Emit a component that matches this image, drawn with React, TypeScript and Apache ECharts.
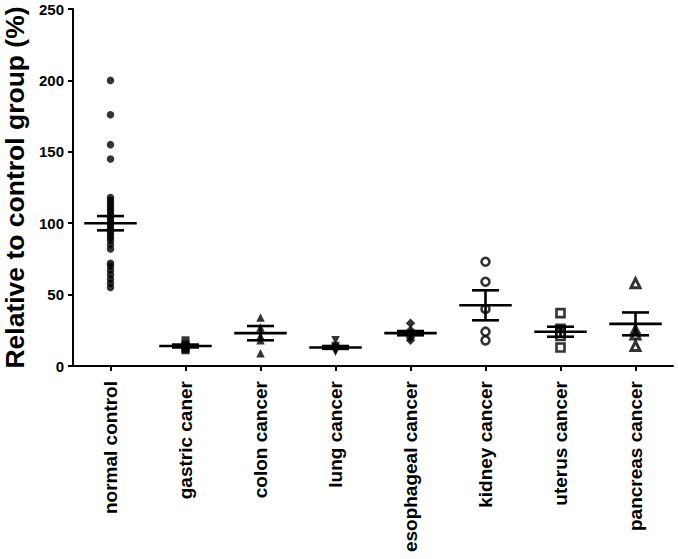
import React, { useEffect, useRef } from "react";
import * as echarts from "echarts";

const categories = [
  "normal control",
  "gastric caner",
  "colon cancer",
  "lung cancer",
  "esophageal cancer",
  "kidney cancer",
  "uterus cancer",
  "pancreas cancer",
];

const normalControl = [200, 176, 155, 145, 118, 116, 114, 112, 110, 108, 106, 104, 102, 100, 98, 96, 94, 92, 90, 88, 85, 82, 72, 70, 67, 64, 61, 58, 55];
const gastric = [18, 15, 14, 13, 12, 11];
const colon = [34, 27, 21, 18, 9];
const lung = [18, 14, 13, 12, 11, 10];
const esophageal = [30, 25, 23, 22, 20, 18];
const kidney = [73, 59, 40, 24, 18];
const uterus = [37, 26, 25, 23, 21, 13];
const pancreas = [58, 25, 22, 14];

const groups = [normalControl, gastric, colon, lung, esophageal, kidney, uterus, pancreas];

// mean and SEM
const means = [100, 14, 23, 13, 23, 42.5, 24, 29.5];
const sems = [5, 1, 5, 1, 1.5, 10.5, 3.5, 8];

const yTicks = [0, 50, 100, 150, 200, 250];

const FONT = "'Liberation Sans', Arial, sans-serif";

const downTriangle = "path://M0,0 L10,0 L5,10 Z";

const markerStyles: any[] = [
  { symbol: "circle", size: 7.5, open: false, bw: 0 },
  { symbol: "rect", size: 8, open: false, bw: 0 },
  { symbol: "triangle", size: 8.5, open: false, bw: 0 },
  { symbol: downTriangle, size: 8.5, open: false, bw: 0 },
  { symbol: "diamond", size: 9.5, open: false, bw: 0 },
  { symbol: "circle", size: 8, open: true, bw: 2.6 },
  { symbol: "rect", size: 8, open: true, bw: 2.6 },
  { symbol: "triangle", size: 9, open: true, bw: 3 },
];

export default function App() {
  const ref = useRef<HTMLDivElement>(null);
  useEffect(() => {
    if (!ref.current) return;
    const chart = echarts.init(ref.current, null, { renderer: "svg" });

    const scatterSeries = groups.map((vals, gi) => {
      const m = markerStyles[gi];
      return {
        type: "scatter",
        name: categories[gi],
        symbol: m.symbol,
        symbolSize: m.size,
        itemStyle: m.open
          ? { color: "#ffffff", borderColor: "#000000", borderWidth: m.bw }
          : { color: "#000000" },
        data: vals.map((v) => [gi, v]),
        z: 2,
      };
    });

    const errorSeries = {
      type: "custom",
      z: 3,
      encode: { x: 0, y: 1 },
      data: categories.map((c, i) => [i, means[i], sems[i]]),
      renderItem: (params: any, api: any) => {
        const xi = api.value(0);
        const mean = api.value(1);
        const sem = api.value(2);
        const c = api.coord([xi, mean]);
        const hi = api.coord([xi, mean + sem]);
        const lo = api.coord([xi, mean - sem]);
        const band = api.size([1, 0])[0];
        const mw = band * 0.35;
        const cw = band * 0.18;
        const style = { stroke: "#000", lineWidth: 2.6 };
        return {
          type: "group",
          children: [
            { type: "line", shape: { x1: c[0] - mw, y1: c[1], x2: c[0] + mw, y2: c[1] }, style },
            { type: "line", shape: { x1: hi[0] - cw, y1: hi[1], x2: hi[0] + cw, y2: hi[1] }, style },
            { type: "line", shape: { x1: lo[0] - cw, y1: lo[1], x2: lo[0] + cw, y2: lo[1] }, style },
            { type: "line", shape: { x1: c[0], y1: hi[1], x2: c[0], y2: lo[1] }, style },
          ],
        };
      },
    };

    chart.setOption({
      animation: false,
      textStyle: { fontFamily: FONT },
      grid: { left: 73, right: 5, top: 9, bottom: 193, outerBoundsMode: "none" },
      xAxis: {
        type: "category",
        data: categories,
        boundaryGap: true,
        axisLine: { show: true, lineStyle: { color: "#000", width: 2 } },
        axisTick: { show: true, alignWithLabel: true, length: 5, lineStyle: { color: "#000", width: 2 } },
        axisLabel: {
          rotate: 90,
          fontSize: 19,
          fontWeight: "bold",
          color: "#000",
          fontFamily: FONT,
          margin: 15,
          interval: 0,
        },
        splitLine: { show: false },
      },
      yAxis: {
        type: "value",
        min: yTicks[0],
        max: yTicks[yTicks.length - 1],
        interval: 50,
        name: "Relative to control group (%)",
        nameLocation: "middle",
        nameGap: 44,
        nameRotate: 90,
        nameTextStyle: { fontSize: 26.5, fontWeight: "bold", color: "#000", fontFamily: FONT },
        axisLine: { show: true, lineStyle: { color: "#000", width: 2 } },
        axisTick: { show: true, length: 5, lineStyle: { color: "#000", width: 2 } },
        axisLabel: { fontSize: 15, fontWeight: "bold", color: "#000", fontFamily: FONT, margin: 9 },
        splitLine: { show: false },
      },
      series: [...scatterSeries, errorSeries],
    });
    return () => chart.dispose();
  }, []);
  return (
    <div
      ref={ref}
      style={{ position: "fixed", left: 0, top: 0, width: 678, height: 559, background: "#fff" }}
    />
  );
}
